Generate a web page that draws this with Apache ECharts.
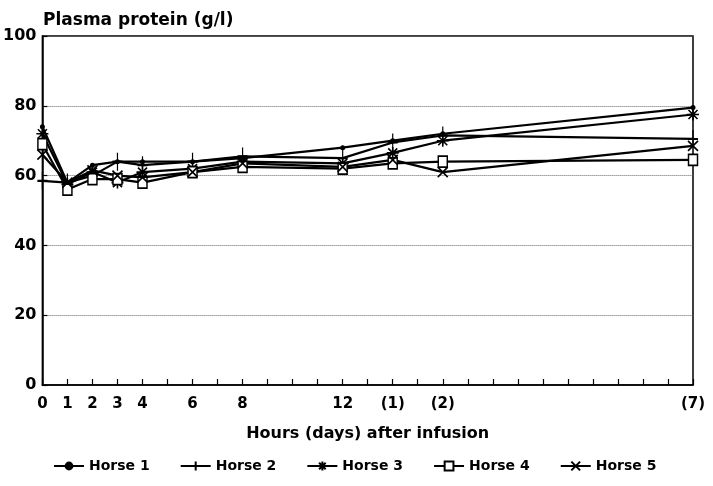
<!DOCTYPE html>
<html>
<head>
<meta charset="utf-8">
<script src="https://cdn.jsdelivr.net/npm/echarts@6/dist/echarts.min.js"></script>
<style>
  html, body { margin: 0; padding: 0; background: #fff; }
  #chart { width: 713px; height: 486px; }
</style>
</head>
<body>
<div id="chart"></div>
<script>
// x position: hours up to 12, then 2 units per day
const hours = [0, 1, 2, 3, 4, 6, 8, 12, 14, 16, 26];
const tickValues = [0, 1, 2, 3, 4, 6, 8, 12, 14, 16, 26];
const tickText = ["0", "1", "2", "3", "4", "6", "8", "12", "(1)", "(2)", "(7)"];

const horse1 = [74, 58, 63, 64, 64, 64, 65, 68, 70, 72, 79.5];
const horse2 = [58.5, 58, 60, 64, 63, 64, 65.5, 65, 69.5, 71.5, 70.5];
const horse3 = [72, 57.5, 61, 58, 61, 62, 64, 63.5, 66.5, 70, 77.5];
const horse4 = [69, 56, 59, 59, 58, 61, 62.5, 62, 63.5, 64, 64.5];
const horse5 = [66, 58, 61.5, 60, 59.5, 61, 63.5, 62.5, 64.5, 61, 68.5];

const names = ["Horse 1", "Horse 2", "Horse 3", "Horse 4", "Horse 5"];
const values = [horse1, horse2, horse3, horse4, horse5];

const font = "DejaVu Sans";

// marker shapes
const symbols = [
  { symbol: "circle", size: 5, fill: "#000" },
  { symbol: "path://M5,0 L5,20 M0,10 L10,10", size: [10, 18], fill: "none" },
  { symbol: "path://M6,0 L6,12 M0,6 L12,6 M1.5,1.5 L10.5,10.5 M10.5,1.5 L1.5,10.5", size: 12, fill: "none" },
  { symbol: "rect", size: [9, 11], fill: "#fff" },
  { symbol: "path://M0,0 L10,10 M10,0 L0,10", size: 10, fill: "none" },
];

const chart = echarts.init(document.getElementById("chart"));

const series = names.map((name, i) => ({
  name: name,
  type: "line",
  data: hours.map((h, j) => [h, values[i][j]]),
  symbol: symbols[i].symbol,
  symbolSize: symbols[i].size,
  showAllSymbol: true,
  lineStyle: { color: "#000", width: 2.2 },
  itemStyle: {
    color: symbols[i].fill,
    borderColor: "#000",
    borderWidth: i === 0 ? 0 : 1.6,
  },
  emphasis: { disabled: true },
  animation: false,
}));

chart.setOption({
  backgroundColor: "#fff",
  animation: false,
  title: {
    text: "Plasma protein (g/l)",
    left: 38,
    top: 7,
    textStyle: { fontFamily: font, fontSize: 17, fontWeight: "bold", color: "#000" },
  },
  grid: {
    left: 40,
    right: 20,
    top: 36,
    bottom: 101,
    show: true,
    borderColor: "#000",
    borderWidth: 1.5,
    backgroundColor: "transparent",
  },
  legend: {
    bottom: 8,
    left: 48,
    itemWidth: 30,
    itemHeight: 11,
    itemGap: 30,
    textStyle: { fontFamily: font, fontSize: 14, fontWeight: "bold", color: "#000" },
    data: names,
  },
  xAxis: {
    type: "value",
    min: 0,
    max: 26,
    interval: 1,
    name: "Hours (days) after infusion",
    nameLocation: "middle",
    nameGap: 41,
    nameTextStyle: { fontFamily: font, fontSize: 16, fontWeight: "bold", color: "#000" },
    axisLine: { lineStyle: { color: "#000", width: 1.5 } },
    axisTick: { inside: true, length: 6, lineStyle: { color: "#000", width: 1.2 } },
    splitLine: { show: false },
    axisLabel: {
      fontFamily: font,
      fontSize: 15,
      fontWeight: "bold",
      color: "#000",
      margin: 12,
      showMinLabel: true,
      showMaxLabel: true,
      formatter: function (v) {
        const k = tickValues.indexOf(v);
        return k >= 0 ? tickText[k] : "";
      },
    },
  },
  yAxis: {
    type: "value",
    min: 0,
    max: 100,
    interval: 20,
    axisLine: { show: true, lineStyle: { color: "#000", width: 1.5 } },
    axisTick: { show: true, inside: true, length: 5, lineStyle: { color: "#000", width: 1.2 } },
    splitLine: { show: true, lineStyle: { color: "#666", type: "dotted", width: 1 } },
    axisLabel: {
      fontFamily: font,
      fontSize: 16,
      fontWeight: "bold",
      color: "#000",
      margin: 6,
    },
  },
  series: series,
});
</script>
</body>
</html>
